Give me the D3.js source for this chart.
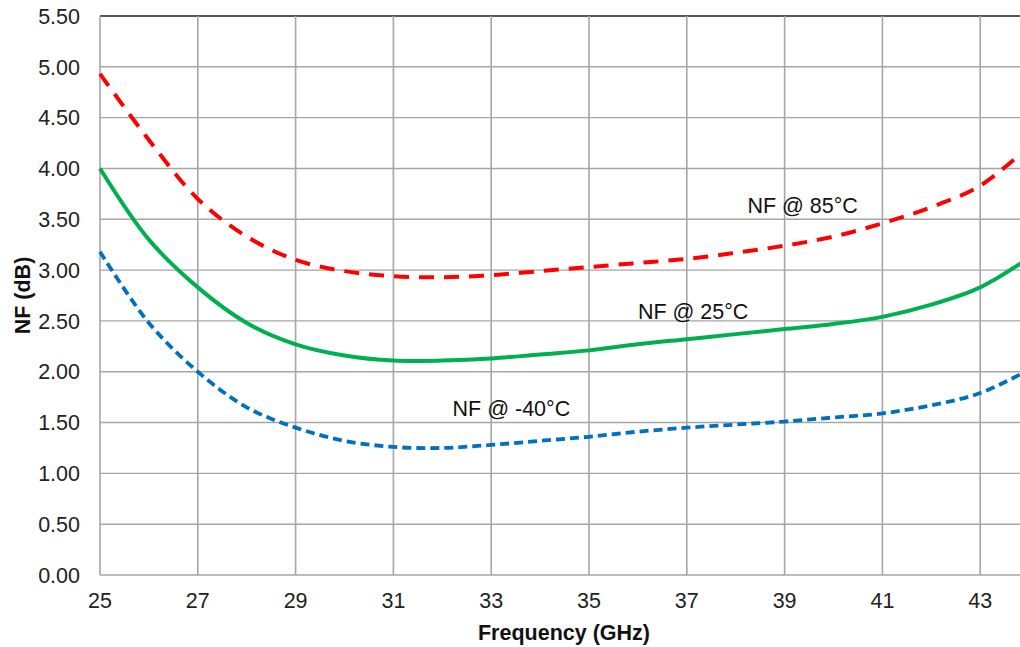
<!DOCTYPE html>
<html>
<head>
<meta charset="utf-8">
<script src="https://cdn.jsdelivr.net/npm/d3@7"></script>
<style>
  body { margin: 0; background: #fff; }
  text { font-family: Arial, "Liberation Sans", sans-serif; }
</style>
</head>
<body>
<div id="chart"></div>
<script>
// frequency (GHz) and noise figure (dB)
var freq = [25, 26, 27, 28, 29, 30, 31, 32, 33, 34, 35, 36, 37, 38, 39, 40, 41, 42, 43, 44];
var nf85 = [4.93, 4.28, 3.70, 3.33, 3.10, 2.99, 2.94, 2.93, 2.95, 2.99, 3.03, 3.07, 3.11, 3.17, 3.24, 3.33, 3.46, 3.62, 3.83, 4.22];
var nf25 = [4.00, 3.30, 2.83, 2.48, 2.27, 2.16, 2.11, 2.11, 2.13, 2.17, 2.21, 2.27, 2.32, 2.37, 2.42, 2.47, 2.54, 2.66, 2.83, 3.12];
var nfm40 = [3.18, 2.48, 2.00, 1.65, 1.45, 1.32, 1.26, 1.25, 1.28, 1.32, 1.36, 1.41, 1.45, 1.48, 1.51, 1.55, 1.59, 1.67, 1.79, 2.02];
var xTicks = [25, 27, 29, 31, 33, 35, 37, 39, 41, 43];
var yTicks = [0, 0.5, 1, 1.5, 2, 2.5, 3, 3.5, 4, 4.5, 5, 5.5];
var labels = ["NF @ 85°C", "NF @ 25°C", "NF @ -40°C"];

var width = 1020;
var height = 647;
var plotLeft = 100, plotTop = 16, plotBottom = 575;

var svg = d3.select("#chart")
    .append("svg")
    .attr("width", width)
    .attr("height", height);

var x = d3.scaleLinear().domain([25, 44]).range([plotLeft, plotLeft + 19 * 48.9]);
var y = d3.scaleLinear().domain([0, 5.5]).range([plotBottom, plotTop]);

// grid
svg.append("g").selectAll("line")
    .data(yTicks)
    .enter().append("line")
    .attr("x1", plotLeft).attr("x2", width)
    .attr("y1", function(d) { return y(d); })
    .attr("y2", function(d) { return y(d); })
    .attr("stroke", function(d) { return d == 5.5 ? "#222" : "#a6a6a6"; })
    .attr("stroke-width", function(d) { return d == 5.5 ? 1.6 : 1.4; });

svg.append("g").selectAll("line")
    .data(xTicks)
    .enter().append("line")
    .attr("x1", function(d) { return x(d); })
    .attr("x2", function(d) { return x(d); })
    .attr("y1", plotTop).attr("y2", plotBottom)
    .attr("stroke", "#a6a6a6")
    .attr("stroke-width", 1.6);

// tick labels
svg.append("g").selectAll("text")
    .data(yTicks)
    .enter().append("text")
    .attr("x", 80)
    .attr("y", function(d) { return y(d); })
    .attr("dy", "0.36em")
    .attr("text-anchor", "end")
    .style("font-size", "21.5px")
    .attr("fill", "#222")
    .text(function(d) { return d3.format(".2f")(d); });

svg.append("g").selectAll("text")
    .data(xTicks)
    .enter().append("text")
    .attr("x", function(d) { return x(d); })
    .attr("y", 608)
    .attr("text-anchor", "middle")
    .style("font-size", "21.5px")
    .attr("fill", "#222")
    .text(function(d) { return d; });

// axis titles
svg.append("text")
    .attr("x", 564)
    .attr("y", 640)
    .attr("text-anchor", "middle")
    .style("font-size", "21.5px")
    .style("font-weight", "bold")
    .attr("fill", "#111")
    .text("Frequency (GHz)");

svg.append("text")
    .attr("transform", "translate(30," + (plotTop + plotBottom) / 2 + ") rotate(-90)")
    .attr("text-anchor", "middle")
    .style("font-size", "21.5px")
    .style("font-weight", "bold")
    .attr("fill", "#111")
    .text("NF (dB)");

// curves
var line = d3.line()
    .x(function(d) { return x(d[0]); })
    .y(function(d) { return y(d[1]); })
    .curve(d3.curveCatmullRom.alpha(0.5));

var series = [
    { vals: nf85, color: "#ff0000", dash: "15,10", w: 4 },
    { vals: nf25, color: "#00b050", dash: null, w: 4 },
    { vals: nfm40, color: "#0070c0", dash: "9,5", w: 3.8 }
];

series.forEach(function(s) {
    svg.append("path")
        .datum(freq.map(function(f, i) { return [f, s.vals[i]]; }))
        .attr("d", line)
        .attr("fill", "none")
        .attr("stroke", s.color)
        .attr("stroke-width", s.w)
        .attr("stroke-dasharray", s.dash);
});

// annotations
var labelPos = [[38.24, 3.56], [36.0, 2.52], [32.21, 1.56]];
svg.append("g").selectAll("text")
    .data(labels)
    .enter().append("text")
    .attr("x", function(d, i) { return x(labelPos[i][0]); })
    .attr("y", function(d, i) { return y(labelPos[i][1]); })
    .style("font-size", "21.5px")
    .attr("fill", "#111")
    .text(function(d) { return d; });
</script>
</body>
</html>
